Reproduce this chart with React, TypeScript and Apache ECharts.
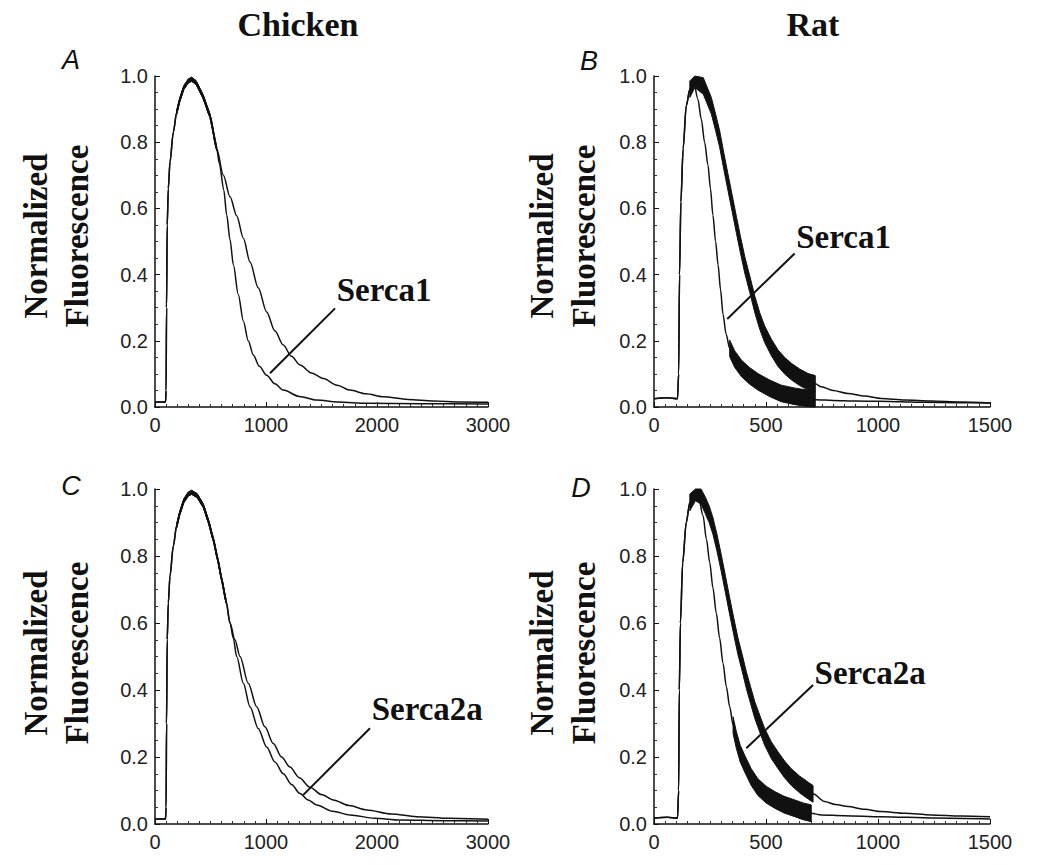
import React, { useEffect, useRef } from "react";
import * as echarts from "echarts";

type P = [number, number];

// ---- tick labels ----
const chickenXTicks = [0, 1000, 2000, 3000];
const ratXTicks = [0, 500, 1000, 1500];
const yTicks = [0.0, 0.2, 0.4, 0.6, 0.8, 1.0];

// ---- texts ----
const columnTitles = ["Chicken", "Rat"];
const panelLetters = ["A", "B", "C", "D"];
const yTitleLines = ["Normalized", "Fluorescence"];
const calloutTexts = ["Serca1", "Serca1", "Serca2a", "Serca2a"];

// ---- Panel A: chicken, Serca1 (time ms, normalized fluorescence) ----
const chickenA_control: P[] = [
  [0, 0.015], [95, 0.015], [100, 0.05], [104, 0.3], [110, 0.55], [120, 0.66], [135, 0.74],
  [165, 0.83], [195, 0.89], [225, 0.93], [260, 0.965], [300, 0.985], [330, 0.99], [370, 0.98],
  [430, 0.94], [495, 0.88], [556, 0.78], [616, 0.7], [676, 0.635], [736, 0.578], [796, 0.51],
  [856, 0.438], [930, 0.36], [1006, 0.287], [1080, 0.23], [1156, 0.187], [1230, 0.153],
  [1306, 0.127], [1410, 0.103], [1516, 0.086], [1640, 0.066], [1757, 0.051], [1900, 0.04],
  [2057, 0.031], [2280, 0.023], [2508, 0.018], [2750, 0.015], [3000, 0.014],
];
const chickenA_serca1: P[] = [
  [0, 0.015], [95, 0.015], [100, 0.05], [104, 0.3], [110, 0.55], [120, 0.66], [135, 0.74],
  [165, 0.83], [195, 0.89], [225, 0.93], [260, 0.965], [300, 0.985], [330, 0.99], [370, 0.98],
  [430, 0.94], [495, 0.88], [556, 0.78], [580, 0.735], [620, 0.655], [646, 0.58], [676, 0.505],
  [706, 0.43], [750, 0.34], [796, 0.26], [840, 0.2], [886, 0.157], [940, 0.123], [1006, 0.096],
  [1080, 0.07], [1156, 0.051], [1300, 0.032], [1456, 0.021], [1650, 0.015], [1907, 0.011],
  [2400, 0.01], [3000, 0.009],
];

// ---- Panel B: rat, Serca1 ----
const ratB_control: P[] = [
  [0, 0.025], [60, 0.028], [105, 0.025], [110, 0.1], [114, 0.4], [120, 0.62], [130, 0.78],
  [144, 0.91], [160, 0.96], [182, 0.99], [220, 0.97], [256, 0.91], [275, 0.86], [293, 0.81],
  [311, 0.745], [330, 0.68], [349, 0.615], [368, 0.55], [386, 0.49], [405, 0.43], [428, 0.37],
  [450, 0.31], [472, 0.26], [494, 0.22], [524, 0.18], [554, 0.147], [583, 0.125], [613, 0.107],
  [650, 0.09], [688, 0.076], [720, 0.07], [747, 0.061], [800, 0.05], [866, 0.041], [940, 0.033],
  [1015, 0.026], [1120, 0.021], [1238, 0.018], [1370, 0.015], [1500, 0.012],
];
const ratB_serca1: P[] = [
  [0, 0.025], [60, 0.028], [105, 0.025], [110, 0.1], [114, 0.4], [120, 0.62], [130, 0.78],
  [144, 0.91], [160, 0.96], [175, 0.99], [196, 0.93], [211, 0.87], [226, 0.8], [241, 0.73],
  [252, 0.66], [263, 0.58], [275, 0.5], [286, 0.43], [297, 0.355], [308, 0.28], [322, 0.22],
  [338, 0.177], [360, 0.145], [390, 0.117], [425, 0.095], [464, 0.076], [515, 0.057],
  [568, 0.041], [630, 0.032], [688, 0.026], [720, 0.022], [800, 0.02], [900, 0.018],
  [1000, 0.017], [1100, 0.016], [1200, 0.014], [1350, 0.013], [1500, 0.012],
];

// ---- Panel C: chicken, Serca2a ----
const chickenC_control: P[] = [
  [0, 0.015], [95, 0.015], [100, 0.05], [104, 0.3], [110, 0.55], [120, 0.66], [135, 0.74],
  [165, 0.83], [195, 0.89], [225, 0.93], [260, 0.965], [300, 0.985], [330, 0.99], [380, 0.98],
  [435, 0.95], [480, 0.905], [525, 0.85], [565, 0.79], [601, 0.73], [640, 0.665], [676, 0.6],
  [720, 0.55], [766, 0.5], [840, 0.42], [916, 0.35], [990, 0.29], [1066, 0.24], [1140, 0.2],
  [1216, 0.17], [1300, 0.138], [1396, 0.11], [1500, 0.088], [1606, 0.072], [1750, 0.055],
  [1907, 0.042], [2130, 0.03], [2357, 0.022], [2650, 0.017], [3000, 0.014],
];
const chickenC_serca2a: P[] = [
  [0, 0.015], [95, 0.015], [100, 0.05], [104, 0.3], [110, 0.55], [120, 0.66], [135, 0.74],
  [165, 0.83], [195, 0.89], [225, 0.93], [260, 0.965], [300, 0.985], [330, 0.99], [380, 0.98],
  [435, 0.95], [480, 0.905], [525, 0.85], [565, 0.79], [601, 0.73], [640, 0.665], [676, 0.6],
  [705, 0.555], [736, 0.5], [796, 0.42], [856, 0.35], [930, 0.285], [1006, 0.23], [1080, 0.185],
  [1156, 0.15], [1230, 0.118], [1306, 0.091], [1380, 0.072], [1456, 0.057], [1600, 0.038],
  [1757, 0.027], [1980, 0.017], [2207, 0.012], [2600, 0.01], [3000, 0.009],
];

// ---- Panel D: rat, Serca2a ----
const ratD_control: P[] = [
  [0, 0.017], [60, 0.02], [105, 0.017], [110, 0.1], [113, 0.4], [118, 0.6], [128, 0.78],
  [144, 0.9], [160, 0.96], [185, 0.99], [210, 0.98], [230, 0.95], [246, 0.925], [263, 0.89],
  [281, 0.84], [300, 0.78], [319, 0.715], [338, 0.65], [356, 0.59], [375, 0.53], [394, 0.48],
  [412, 0.43], [431, 0.385], [450, 0.34], [472, 0.3], [494, 0.26], [524, 0.22], [554, 0.19],
  [583, 0.163], [613, 0.14], [650, 0.118], [688, 0.1], [710, 0.09], [762, 0.067], [810, 0.058],
  [866, 0.052], [940, 0.044], [1015, 0.037], [1120, 0.032], [1238, 0.027], [1370, 0.024],
  [1500, 0.022],
];
const ratD_serca2a: P[] = [
  [0, 0.017], [60, 0.02], [105, 0.017], [110, 0.1], [113, 0.4], [118, 0.6], [128, 0.78],
  [144, 0.9], [160, 0.96], [180, 0.99], [200, 0.97], [219, 0.92], [234, 0.85], [249, 0.78],
  [263, 0.705], [278, 0.63], [293, 0.555], [308, 0.48], [323, 0.41], [338, 0.35], [353, 0.295],
  [368, 0.25], [385, 0.21], [405, 0.18], [434, 0.14], [464, 0.11], [500, 0.088], [539, 0.072],
  [580, 0.058], [628, 0.047], [665, 0.038], [702, 0.032], [747, 0.027], [850, 0.025],
  [1015, 0.022], [1250, 0.018], [1500, 0.015],
];

// ---- callout pointers and label anchors (data coordinates) ----
const pointerA: P[] = [[1036, 0.102], [1622, 0.298]];
const pointerB: P[] = [[327, 0.266], [628, 0.464]];
const pointerC: P[] = [[1336, 0.087], [1937, 0.286]];
const pointerD: P[] = [[412, 0.226], [710, 0.415]];
const labelAnchorA: P = [1637, 0.353];
const labelAnchorB: P = [635, 0.514];
const labelAnchorC: P = [1952, 0.343];
const labelAnchorD: P = [717, 0.451];

const INK = "#111";

type Panel = {
  grid: { left: number; top: number; width: number; height: number };
  xTicks: number[];
  curves: P[][];
  thickRanges: [number, number][]; // time windows shown as noisy bands
  bandAmp: number;
  pointer: P[];
  labelAnchor: P;
  label: string;
};

const panels: Panel[] = [
  {
    grid: { left: 155, top: 76, width: 333, height: 331 },
    xTicks: chickenXTicks,
    curves: [chickenA_control, chickenA_serca1],
    thickRanges: [[190, 560], [190, 560]],
    bandAmp: 0.006,
    pointer: pointerA,
    labelAnchor: labelAnchorA,
    label: calloutTexts[0],
  },
  {
    grid: { left: 654, top: 76, width: 336, height: 331 },
    xTicks: ratXTicks,
    curves: [ratB_control, ratB_serca1],
    thickRanges: [[150, 722], [335, 722]],
    bandAmp: 0.025,
    pointer: pointerB,
    labelAnchor: labelAnchorB,
    label: calloutTexts[1],
  },
  {
    grid: { left: 155, top: 489, width: 333, height: 335 },
    xTicks: chickenXTicks,
    curves: [chickenC_control, chickenC_serca2a],
    thickRanges: [[190, 640], [190, 640]],
    bandAmp: 0.006,
    pointer: pointerC,
    labelAnchor: labelAnchorC,
    label: calloutTexts[2],
  },
  {
    grid: { left: 654, top: 489, width: 336, height: 335 },
    xTicks: ratXTicks,
    curves: [ratD_control, ratD_serca2a],
    thickRanges: [[150, 722], [340, 722]],
    bandAmp: 0.025,
    pointer: pointerD,
    labelAnchor: labelAnchorD,
    label: calloutTexts[3],
  },
];

function buildOption() {
  const grids: any[] = [];
  const xAxes: any[] = [];
  const yAxes: any[] = [];
  const series: any[] = [];

  panels.forEach((p, gi) => {
    grids.push({ ...p.grid, containLabel: false });
    xAxes.push({
      gridIndex: gi,
      type: "value",
      min: p.xTicks[0],
      max: p.xTicks[p.xTicks.length - 1],
      interval: p.xTicks[1] - p.xTicks[0],
      axisLine: { show: true, onZero: false, lineStyle: { color: INK, width: 1.5 } },
      axisTick: { show: true, inside: true, length: 5, lineStyle: { color: INK, width: 1 } },
      minorTick: { show: true, splitNumber: 10, length: 3, lineStyle: { color: "#333", width: 1 } },
      splitLine: { show: false },
      minorSplitLine: { show: false },
      axisLabel: {
        fontFamily: "Liberation Sans",
        fontSize: 20,
        color: "#222",
        margin: 8,
        formatter: (v: number) => String(v),
      },
    });
    yAxes.push({
      gridIndex: gi,
      type: "value",
      min: yTicks[0],
      max: yTicks[yTicks.length - 1],
      interval: yTicks[1] - yTicks[0],
      axisLine: { show: true, onZero: false, lineStyle: { color: INK, width: 1.5 } },
      axisTick: { show: true, inside: true, length: 5, lineStyle: { color: INK, width: 1 } },
      minorTick: { show: true, splitNumber: 4, length: 3, lineStyle: { color: "#333", width: 1 } },
      splitLine: { show: false },
      minorSplitLine: { show: false },
      axisLabel: {
        fontFamily: "Liberation Sans",
        fontSize: 20,
        color: "#222",
        margin: 7,
        formatter: (v: number) => v.toFixed(1),
      },
    });

    p.curves.forEach((c, ci) => {
      // trace
      series.push({
        type: "line",
        xAxisIndex: gi,
        yAxisIndex: gi,
        data: c,
        symbol: "none",
        smooth: 0.3,
        smoothMonotone: "x",
        lineStyle: { color: INK, width: 1.5 },
        silent: true,
        z: 3,
      });
      // noisy band: envelope polygon around the trace
      const [t0, t1] = p.thickRanges[ci];
      const pts = c.filter((d) => d[0] >= t0 && d[0] <= t1);
      const amp = p.bandAmp;
      series.push({
        type: "custom",
        xAxisIndex: gi,
        yAxisIndex: gi,
        coordinateSystem: "cartesian2d",
        data: [pts[0]],
        silent: true,
        z: 3,
        renderItem: (_params: any, api: any) => {
          const upper = pts.map(([t, v]) => api.coord([t, Math.min(1, v + amp)]));
          const lower = pts
            .slice()
            .reverse()
            .map(([t, v]) => api.coord([t, Math.max(0, v - amp)]));
          return {
            type: "polygon",
            shape: { points: upper.concat(lower) },
            style: { fill: INK, stroke: INK, lineWidth: 1 },
          };
        },
      });
    });

    // pointer line
    series.push({
      type: "line",
      xAxisIndex: gi,
      yAxisIndex: gi,
      data: p.pointer,
      symbol: "none",
      lineStyle: { color: INK, width: 2 },
      silent: true,
      z: 4,
    });
    // callout label
    series.push({
      type: "custom",
      xAxisIndex: gi,
      yAxisIndex: gi,
      coordinateSystem: "cartesian2d",
      data: [p.labelAnchor],
      silent: true,
      z: 5,
      renderItem: (_params: any, api: any) => {
        const pt = api.coord([api.value(0), api.value(1)]);
        return {
          type: "text",
          x: pt[0],
          y: pt[1],
          style: {
            text: p.label,
            font: 'bold 33px "Liberation Serif", "Times New Roman", serif',
            fill: INK,
            align: "left",
            verticalAlign: "middle",
            textAlign: "left",
            textVerticalAlign: "middle",
          },
        };
      },
    });
  });

  const serifBold = (size: number) => `bold ${size}px "Liberation Serif", "Times New Roman", serif`;
  const txt = (text: string, x: number, y: number, font: string, rotation = 0) => ({
    type: "text",
    x,
    y,
    rotation,
    silent: true,
    style: {
      text,
      font,
      fill: INK,
      align: "center",
      verticalAlign: "middle",
      textAlign: "center",
      textVerticalAlign: "middle",
    },
  });

  const italicSans = 'italic 27px "Liberation Sans", Arial, sans-serif';
  const graphics: any[] = [
    txt(columnTitles[0], 298, 24, serifBold(34)),
    txt(columnTitles[1], 813, 24, serifBold(34)),
    txt(panelLetters[0], 71, 60, italicSans),
    txt(panelLetters[1], 589, 61, italicSans),
    txt(panelLetters[2], 71, 486, italicSans),
    txt(panelLetters[3], 581, 488, italicSans),
  ];
  const yTitlePos = [
    { xs: [36, 77], y: 236 },
    { xs: [542, 584], y: 236 },
    { xs: [36, 77], y: 653 },
    { xs: [542, 584], y: 653 },
  ];
  yTitlePos.forEach((pos) => {
    yTitleLines.forEach((line, li) => {
      graphics.push(txt(line, pos.xs[li], pos.y, serifBold(33), Math.PI / 2));
    });
  });

  return {
    animation: false,
    backgroundColor: "#ffffff",
    grid: grids,
    xAxis: xAxes,
    yAxis: yAxes,
    series,
    graphic: { elements: graphics },
  };
}

export default function App() {
  const ref = useRef<HTMLDivElement>(null);
  useEffect(() => {
    if (!ref.current) return;
    const chart = echarts.init(ref.current, undefined, { renderer: "svg" });
    chart.setOption(buildOption() as any);
    return () => chart.dispose();
  }, []);
  return (
    <div
      ref={ref}
      style={{ position: "fixed", left: 0, top: 0, width: 1044, height: 865, background: "#fff" }}
    />
  );
}
